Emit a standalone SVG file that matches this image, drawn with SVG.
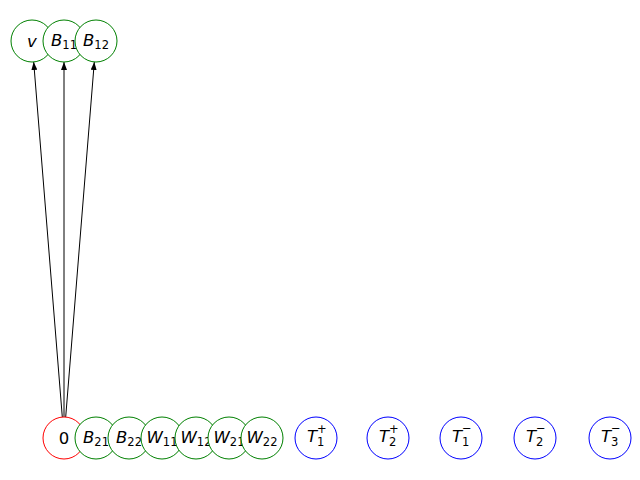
<svg xmlns="http://www.w3.org/2000/svg" width="640" height="480" viewBox="0 0 640 480">
<defs>
<marker id="arr" markerWidth="8" markerHeight="6" refX="8" refY="3" orient="auto" markerUnits="userSpaceOnUse">
<path d="M0,0 L8,3 L0,6 Z" fill="#000"/>
</marker>
</defs>
<style>
.g{fill:#fff;stroke:#008000;stroke-width:1}
.r{fill:#fff;stroke:#ff0000;stroke-width:1}
.b{fill:#fff;stroke:#0000ff;stroke-width:1}
text{font-family:"DejaVu Sans",sans-serif;font-size:16.5px;font-style:italic;text-anchor:middle;fill:#000}
.up{font-style:normal;font-size:11.5px}
text.s{font-style:normal;font-size:11.5px;text-anchor:start}
.e{stroke:#000;stroke-width:1;fill:none;marker-end:url(#arr)}
</style>
<rect width="640" height="480" fill="#fff"/>
<g id="connectors">
<line class="e" x1="62.3" y1="417" x2="33.7" y2="62"/>
<line class="e" x1="64" y1="417" x2="64" y2="62"/>
<line class="e" x1="65.7" y1="417" x2="94.3" y2="62"/>
</g>
<g id="node-v"><circle class="g" cx="32" cy="41" r="21"/><text x="32" y="47">v</text></g>
<g id="node-B11"><circle class="g" cx="64" cy="41" r="21"/><text x="64" y="45.5">B<tspan class="up" dy="3">11</tspan></text></g>
<g id="node-B12"><circle class="g" cx="96" cy="41" r="21"/><text x="96" y="45.5">B<tspan class="up" dy="3">12</tspan></text></g>
<g id="node-0"><circle class="r" cx="64" cy="438" r="21"/><text style="font-style:normal" x="64" y="444">0</text></g>
<g id="node-B21"><circle class="g" cx="96" cy="438" r="21"/><text x="96" y="442.5">B<tspan class="up" dy="3">21</tspan></text></g>
<g id="node-B22"><circle class="g" cx="129" cy="438" r="21"/><text x="129" y="442.5">B<tspan class="up" dy="3">22</tspan></text></g>
<g id="node-W11"><circle class="g" cx="162" cy="438" r="21"/><text x="162" y="442.5">W<tspan class="up" dy="3">11</tspan></text></g>
<g id="node-W12"><circle class="g" cx="196" cy="438" r="21"/><text x="196" y="442.5">W<tspan class="up" dy="3">12</tspan></text></g>
<g id="node-W21"><circle class="g" cx="229" cy="438" r="21"/><text x="229" y="442.5">W<tspan class="up" dy="3">21</tspan></text></g>
<g id="node-W22"><circle class="g" cx="262" cy="438" r="21"/><text x="262" y="442.5">W<tspan class="up" dy="3">22</tspan></text></g>
<g id="node-T1p"><circle class="b" cx="316" cy="438" r="21"/><text x="312" y="442">T</text><text class="s" x="317" y="433">+</text><text class="s" x="317" y="446">1</text></g>
<g id="node-T2p"><circle class="b" cx="388" cy="438" r="21"/><text x="384" y="442">T</text><text class="s" x="389" y="433">+</text><text class="s" x="389" y="446">2</text></g>
<g id="node-T1m"><circle class="b" cx="461" cy="438" r="21"/><text x="457" y="442">T</text><text class="s" x="462" y="432">−</text><text class="s" x="462" y="446">1</text></g>
<g id="node-T2m"><circle class="b" cx="535" cy="438" r="21"/><text x="531" y="442">T</text><text class="s" x="536" y="432">−</text><text class="s" x="536" y="446">2</text></g>
<g id="node-T3m"><circle class="b" cx="610" cy="438" r="21"/><text x="606" y="442">T</text><text class="s" x="611" y="432">−</text><text class="s" x="611" y="446">3</text></g>
</svg>
